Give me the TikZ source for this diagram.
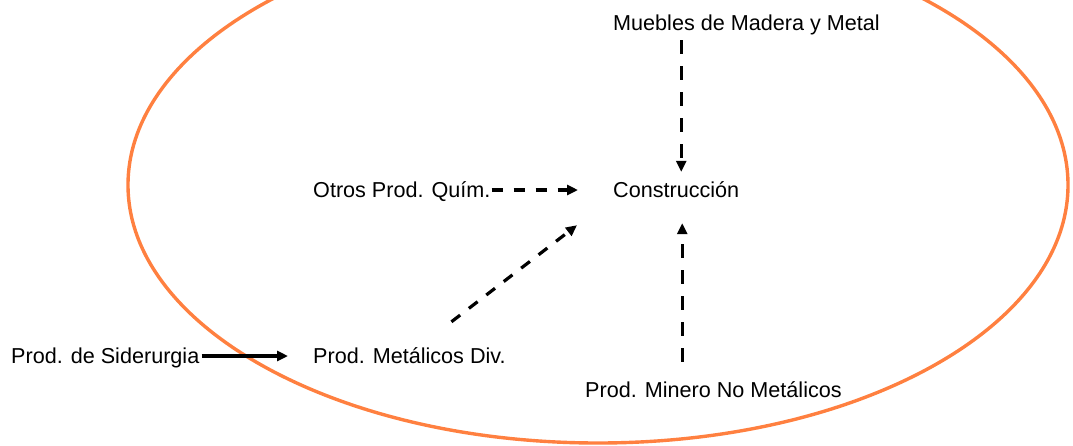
\documentclass[tikz,border=0pt]{standalone}
\usepackage{fontspec}
\setmainfont{Liberation Sans}
\usetikzlibrary{arrows.meta, calc}
\definecolor{ringorange}{RGB}{255,128,64}
\tikzset{
    every node/.style = {font=\fontsize{21.6}{26}\selectfont, inner sep=0pt, anchor=base west, text height=18pt, text depth=4pt},
    flow/.style = {line width=3.2pt, -{Triangle[length=11pt, width=10pt]}},
    dashflow/.style = {flow, dash pattern=on 11pt off 11pt},
    longdash/.style = {flow, dash pattern=on 14pt off 12pt},
    ring/.style = {draw=ringorange, line width=3.4pt}
}

\begin{document}
\begin{tikzpicture}[x=1pt, y=1pt]
    \useasboundingbox (0,0) rectangle (1073,-445);
    \clip (0,0) rectangle (1073,-445);
    \draw[ring] (598,-185) ellipse [x radius=470, y radius=258];

    \node (muebles) at (613,-30) {Muebles de Madera y Metal};
    \node (otros)   at (313,-197) {Otros Prod. Quím.};
    \node (constr)  at (613,-197) {Construcción};
    \node (sider)   at (11,-363) {Prod. de Siderurgia};
    \node (metal)   at (313,-363) {Prod. Metálicos Div.};
    \node (minero)  at (585,-397) {Prod. Minero No Metálicos};

    \draw[longdash, shorten <=6pt, shorten >=7pt]
        ([xshift=5pt]constr.north |- muebles.south) -- ([xshift=5pt]constr.north);
    \draw[dashflow, shorten <=1pt, shorten >=35pt] (otros.east) -- (constr.west);
    \draw[dashflow] ($(metal.north)+(42,23)$) -- ($(constr.south west)+(-36,-24)$);
    \draw[longdash, shorten <=17pt, shorten >=22pt]
        ([xshift=6pt]constr.south |- minero.north) -- ([xshift=6pt]constr.south);
    \draw[flow, shorten <=2pt, shorten >=25pt] (sider.east) -- (metal.west);
\end{tikzpicture}
\end{document}
